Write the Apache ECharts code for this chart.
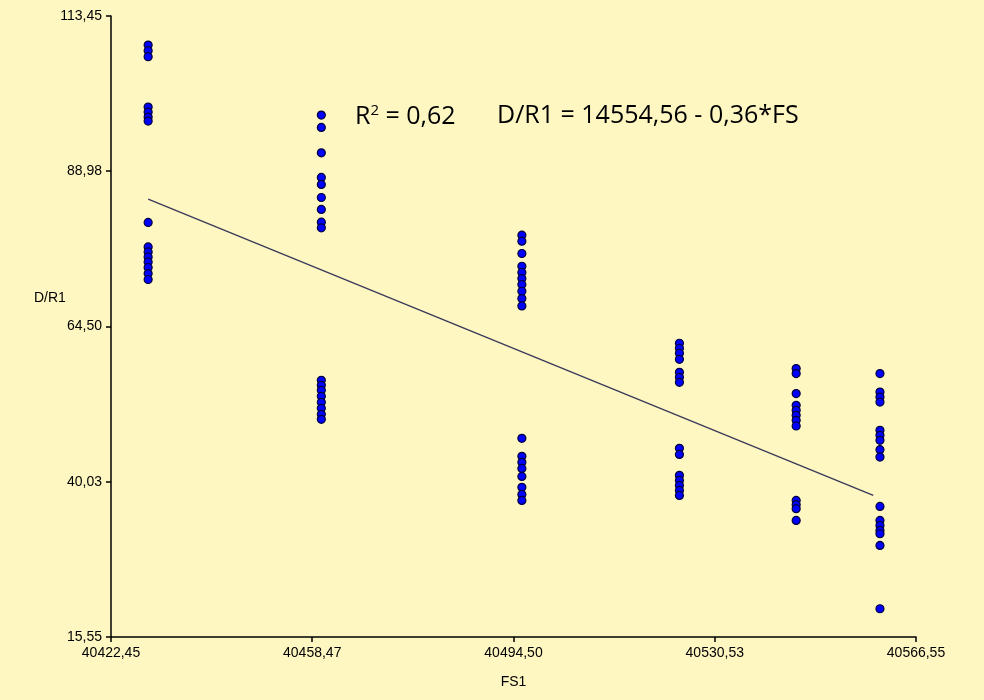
<!DOCTYPE html>
<html>
<head>
<meta charset="utf-8">
<script src="https://cdn.jsdelivr.net/npm/echarts@6/dist/echarts.min.js"></script>
<style>html,body{margin:0;padding:0;background:#FFF7C2;}#c{width:984px;height:700px;}</style>
</head>
<body>
<div id="c"></div>
<script>
const xTicks = [40422.45, 40458.47, 40494.50, 40530.53, 40566.55];
const yTicks = [15.55, 40.03, 64.50, 88.98, 113.45];
const columnFS = [40429.1, 40460.1, 40496.0, 40524.2, 40545.1, 40560.1];
const col1 = [108.87, 107.98, 107.03, 99.09, 98.30, 97.51, 96.88, 80.90, 77.05, 76.26, 75.47, 74.68, 73.80, 72.85, 71.91];
const col2 = [97.83, 95.89, 91.88, 88.00, 86.90, 84.84, 82.95, 80.95, 80.05, 56.02, 55.23, 54.44, 53.49, 52.55, 51.60, 50.65, 49.86];
const col3 = [78.90, 77.95, 76.01, 74.00, 73.01, 72.06, 71.12, 70.06, 68.91, 67.74, 46.87, 44.03, 43.08, 42.13, 40.87, 39.14, 38.03, 37.08];
const col4 = [61.86, 61.07, 60.28, 59.33, 57.28, 56.49, 55.70, 45.29, 44.34, 41.03, 40.24, 39.45, 38.66, 37.87];
const col5 = [57.86, 57.08, 53.92, 52.07, 51.28, 50.50, 49.71, 48.81, 37.08, 36.41, 35.78, 33.93];
const col6 = [57.08, 54.17, 53.38, 52.59, 48.13, 47.34, 46.55, 45.08, 43.92, 36.14, 33.93, 33.14, 32.35, 31.83, 29.98, 20.00];
const trendFS = [40429.1, 40558.9];
const trendDR = [84.58, 37.87];
const r2Text = '0,62';
const eqText = 'D/R1 = 14554,56 - 0,36*FS';

const columns = [col1, col2, col3, col4, col5, col6];
const points = [];
columns.forEach((col, i) => col.forEach(v => points.push([columnFS[i], v])));
const fmt = v => v.toFixed(2).replace('.', ',');

const chart = echarts.init(document.getElementById('c'));
const axisCommon = {
  type: 'value',
  axisLine: { show: true, lineStyle: { color: '#000', width: 1.5 } },
  axisTick: { show: true, length: 5, lineStyle: { color: '#000', width: 1.5 } },
  splitLine: { show: false },
  axisLabel: { color: '#000', fontFamily: 'Liberation Sans', fontSize: 14, formatter: fmt }
};
chart.setOption({
  backgroundColor: '#FFF7C2',
  animation: false,
  grid: { left: 111, right: 68, top: 16, bottom: 63 },
  xAxis: Object.assign({}, axisCommon, {
    min: xTicks[0], max: xTicks[xTicks.length - 1],
    axisTick: Object.assign({}, axisCommon.axisTick, { customValues: xTicks }),
    axisLabel: Object.assign({}, axisCommon.axisLabel, { customValues: xTicks, margin: 9 }),
    name: 'FS1', nameLocation: 'middle', nameGap: 38,
    nameTextStyle: { color: '#000', fontFamily: 'Liberation Sans', fontSize: 14 }
  }),
  yAxis: Object.assign({}, axisCommon, {
    min: yTicks[0], max: yTicks[yTicks.length - 1],
    axisTick: Object.assign({}, axisCommon.axisTick, { customValues: yTicks }),
    axisLabel: Object.assign({}, axisCommon.axisLabel, { customValues: yTicks, margin: 9 })
  }),
  graphic: [
    { type: 'text', left: 34, top: 291, style: { text: 'D/R1', fill: '#000', font: '14px "Liberation Sans"' } },
    { type: 'text', left: 355, top: 103, style: {
        text: 'R{sup|2} = ' + r2Text, fill: '#000', font: '25px "Open Sans"',
        rich: { sup: { fontSize: 15, fontFamily: 'Open Sans', verticalAlign: 'top', padding: [0, 0, 12, 0] } } } },
    { type: 'text', left: 497, top: 103, style: { text: eqText, fill: '#000', font: '25px "Open Sans"' } }
  ],
  series: [
    { type: 'line', data: trendFS.map((x, i) => [x, trendDR[i]]), symbol: 'none',
      lineStyle: { color: '#3C3C5A', width: 1.5 }, z: 1 },
    { type: 'scatter', data: points, symbol: 'circle', symbolSize: 8,
      itemStyle: { color: '#0000FF', borderColor: '#000040', borderWidth: 1.2, opacity: 1 }, z: 2 }
  ]
});
</script>
</body>
</html>
